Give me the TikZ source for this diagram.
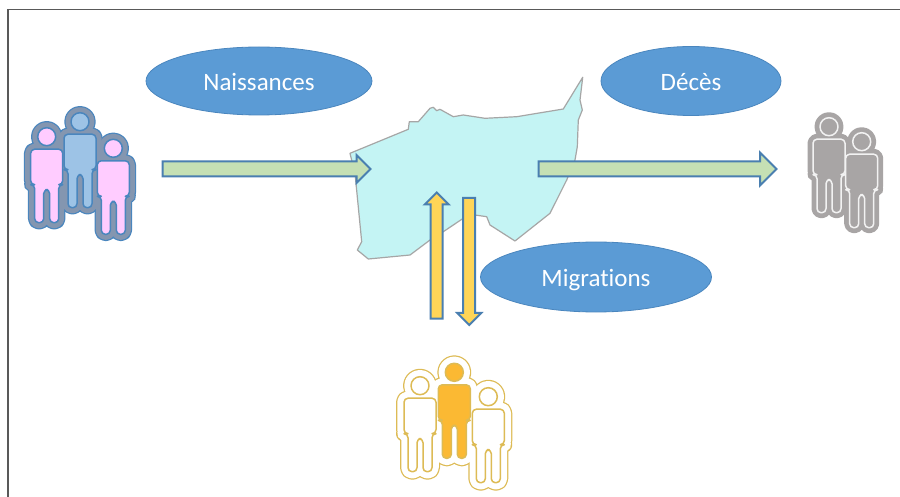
\documentclass[tikz,border=0pt]{standalone}
\usepackage{fontspec}
\setsansfont{Carlito}[Ligatures=NoCommon]
\usetikzlibrary{shapes.geometric,shapes.arrows}
\definecolor{bulle}{HTML}{5B9BD5}
\definecolor{bullebord}{HTML}{4A86BE}
\definecolor{carte}{HTML}{C4F4F4}
\definecolor{cartebord}{HTML}{A6A6A6}
\definecolor{vert}{HTML}{C5E0B4}
\definecolor{jaune}{HTML}{FFD557}
\definecolor{flechebord}{HTML}{4A7FB0}
\definecolor{rose}{HTML}{FFCCFF}
\definecolor{bleuclair}{HTML}{9DC3E6}
\definecolor{ardoise}{HTML}{8496B0}
\definecolor{or}{HTML}{DDBB55}
\definecolor{orfonce}{HTML}{FBB933}
\definecolor{gris}{HTML}{A8A5A5}
\tikzset{
  bulle/.style={ellipse,fill=bulle,draw=bullebord,line width=0.8pt,inner sep=0pt,text=white,text height=22pt,text depth=2pt,font=\sffamily\fontsize{25}{27}\selectfont},
  fleche/.style={single arrow,single arrow tip angle=90,draw=flechebord,line width=2pt,outer sep=0pt,inner sep=0pt,anchor=tail},
  pics/person/.style={code={
    \path[pic actions,line join=round] (0,0) circle[radius=9]
      [rounded corners=4pt] (-16,12.5) -- (16,12.5) -- (16,48) -- (12,48) -- (12,86) -- (3,86) -- (3,53)
      -- (-3,53) -- (-3,86) -- (-12,86) -- (-12,48) -- (-16,48) -- cycle;
  }},
}
\newcommand{\groupe}[5]{%
  \foreach \hx/\hy/\teinte in {#1} \pic[draw=#2,line width=#5] at (\hx,\hy) {person};
  \foreach \hx/\hy/\teinte in {#1} \pic[draw=#3,line width=#5-2.5pt] at (\hx,\hy) {person};
  \foreach \hx/\hy/\teinte in {#1} \pic[draw=#4,line width=1.5pt,fill=\teinte] at (\hx,\hy) {person};
}
\begin{document}
\begin{tikzpicture}[x=1pt,y=-1pt]
        \useasboundingbox (0,0) rectangle (900,497);
        \fill[white] (0,0) rectangle (900,497);
        \draw[line width=1.2pt,color=black!65] (8,497) -- (8,9.5) -- (900,9.5);

        \draw[line width=1.2pt,draw=cartebord,fill=carte,line join=round] (350,153.3) -- (408.3,129.3) -- (409.3,121.7) -- (418.3,121.7)
          -- (430,108.3) -- (433.3,107.3) -- (436.7,110.7) -- (440,109.3) -- (453.3,116.7) -- (463.3,115) -- (485,118.3)
          -- (516.7,116.7) -- (563.3,109) -- (582.7,77.3) -- (580,100) -- (582.3,110) -- (578.3,120) -- (577.3,146.7)
          -- (575,160) -- (566.7,180) -- (550,213.3) -- (515,241) -- (490,225) -- (486.7,216.7) -- (475,215)
          -- (463.3,218.3) -- (443.3,231.7) -- (430,240) -- (410,255) -- (368.3,259) -- (357.3,250) -- (361.7,241.7)
          -- (355,173.3) -- cycle;

        \node[bulle,minimum width=226pt,minimum height=68pt] (naissances) at (259,81) {Naissances};
        \node[bulle,minimum width=180pt,minimum height=69pt] (deces) at (691,81) {Décès};
        \node[bulle,minimum width=231pt,minimum height=70pt] (migrations) at (596,277) {Migrations};

        \node[fleche,fill=vert,inner ysep=6.5pt,single arrow head extend=6.5pt,minimum height=208pt] (entree) at (162.5,169) {};
        \node[fleche,fill=vert,inner ysep=6.5pt,single arrow head extend=9pt,minimum height=238pt] (sortie) at (538.5,169) {};
        \node[fleche,fill=jaune,inner ysep=5pt,single arrow head extend=6pt,minimum height=126pt,rotate=90] (monte) at (436.7,318.5) {};
        \node[fleche,fill=jaune,inner ysep=5pt,single arrow head extend=6pt,minimum height=127pt,rotate=-90] (descend) at (469.2,198) {};

        \groupe{80/121.7/bleuclair,46.7/136.7/rose,113.3/148.3/rose}{bullebord}{ardoise}{bullebord}{13.5pt}
        \groupe{454.3/372.3/orfonce,420/385.7/white,488.3/396.7/white}{or}{white}{or}{16pt}
        \groupe{829/126.7/gris,861.7/141.7/gris}{gris}{gris}{white!85!gris}{11pt}
\end{tikzpicture}
\end{document}
